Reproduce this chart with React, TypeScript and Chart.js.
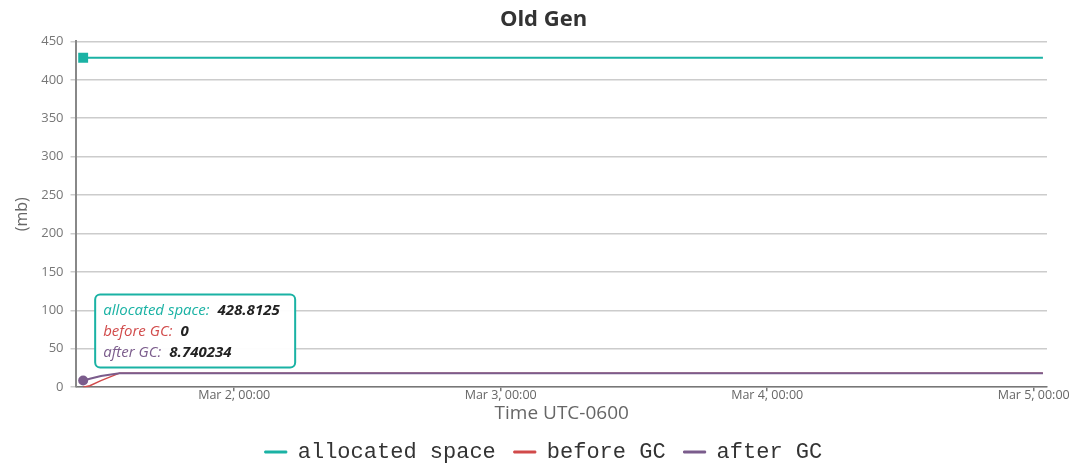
import React, { useEffect, useRef } from "react";
import { Chart, registerables } from "chart.js";

Chart.register(...registerables);

// ---- data ----
const times = ["2019-03-01 10:24", "2019-03-01 11:00", "2019-03-01 12:00", "2019-03-01 13:40", "2019-03-05 00:50"];
const allocatedSpace = [428.8125, 428.8125, 428.8125, 428.8125, 428.8125];
const beforeGC = [0, 2, 8.5, 18.3, 18.3];
const afterGC = [8.740234, 11, 14.5, 18.3, 18.3];
const tickTimes = ["2019-03-02 00:00", "2019-03-03 00:00", "2019-03-04 00:00", "2019-03-05 00:00"];
const axisStart = "2019-03-01 09:48";
const axisEnd = "2019-03-05 01:12";
const monthNames = ["Jan", "Feb", "Mar", "Apr", "May", "Jun", "Jul", "Aug", "Sep", "Oct", "Nov", "Dec"];

const TEAL = "#1ab2a4";
const RED = "#d14b4b";
const PURPLE = "#7b5c8c";

const BASE = Date.UTC(2019, 2, 1, 0, 0);
function toHours(s: string): number {
  const [d, t] = s.split(" ");
  const [y, mo, da] = d.split("-").map(Number);
  const [h, mi] = t.split(":").map(Number);
  return (Date.UTC(y, mo - 1, da, h, mi) - BASE) / 3600000;
}
function fmtHours(v: number): string {
  const dt = new Date(BASE + Math.round(v * 3600000));
  const hh = String(dt.getUTCHours()).padStart(2, "0");
  const mm = String(dt.getUTCMinutes()).padStart(2, "0");
  return `${monthNames[dt.getUTCMonth()]} ${dt.getUTCDate()}, ${hh}:${mm}`;
}

const xs = times.map(toHours);
const pts = (arr: number[]) => arr.map((y, i) => ({ x: xs[i], y }));

const shiftPlugin = {
  id: "shiftTitleLegend",
  afterLayout(chart: any) {
    const dx = 16;
    if (chart.legend) {
      chart.legend.left += dx;
      chart.legend.right += dx;
    }
    if (chart.titleBlock) {
      chart.titleBlock.left += dx;
      chart.titleBlock.right += dx;
    }
  },
};

const tooltipPlugin = {
  id: "fixedTooltip",
  afterDraw(chart: any) {
    const ctx = chart.ctx;
    const meta = chart.getDatasetMeta(2);
    const p = meta.data[0];
    if (!p) return;
    const bx = p.x + 12;
    const by = p.y - 86;
    const bw = 200;
    const bh = 73;
    ctx.save();
    ctx.beginPath();
    (ctx as any).roundRect(bx, by, bw, bh, 5);
    ctx.fillStyle = "rgba(255,255,255,0.96)";
    ctx.fill();
    ctx.lineWidth = 2;
    ctx.strokeStyle = TEAL;
    ctx.stroke();
    const rows = [
      { label: "allocated space:", value: String(allocatedSpace[0]), color: TEAL },
      { label: "before GC:", value: String(beforeGC[0]), color: RED },
      { label: "after GC:", value: String(afterGC[0]), color: PURPLE },
    ];
    ctx.textBaseline = "middle";
    rows.forEach((r, i) => {
      const ty = by + 16 + i * 21;
      ctx.font = "italic 15px 'Open Sans'";
      ctx.fillStyle = r.color;
      ctx.fillText(r.label, bx + 8, ty);
      const w = ctx.measureText(r.label).width;
      ctx.font = "italic bold 15px 'Open Sans'";
      ctx.fillStyle = "#222";
      ctx.fillText(r.value, bx + 8 + w + 8, ty);
    });
    ctx.restore();
  },
};

export default function App() {
  const ref = useRef<HTMLCanvasElement>(null);
  useEffect(() => {
    if (!ref.current) return;
    const chart = new Chart(ref.current, {
      type: "line",
      data: {
        datasets: [
          {
            label: "allocated space",
            data: pts(allocatedSpace),
            borderColor: TEAL,
            backgroundColor: TEAL,
            borderWidth: 2,
            pointStyle: "rect",
            pointRadius: (c: any) => (c.dataIndex === 0 ? 7 : 0),
            pointBackgroundColor: TEAL,
            pointBorderWidth: 0,
            tension: 0,
            order: 0,
          },
          {
            label: "before GC",
            data: pts(beforeGC),
            borderColor: RED,
            backgroundColor: RED,
            borderWidth: 1.5,
            pointRadius: 0,
            tension: 0,
            order: 2,
          },
          {
            label: "after GC",
            data: pts(afterGC),
            borderColor: PURPLE,
            backgroundColor: PURPLE,
            borderWidth: 2,
            pointRadius: (c: any) => (c.dataIndex === 0 ? 5 : 0),
            pointBackgroundColor: PURPLE,
            pointBorderWidth: 0,
            tension: 0,
            order: 1,
          },
        ],
      },
      options: {
        animation: false,
        responsive: true,
        maintainAspectRatio: false,
        layout: { padding: { left: 8, right: 26, top: 2, bottom: -9 } },
        plugins: {
          title: {
            display: true,
            text: "Old Gen",
            color: "#333",
            font: { family: "'Open Sans'", size: 22, weight: "bold" },
            padding: { top: 5, bottom: 8 },
          },
          legend: {
            position: "bottom",
            labels: {
              boxWidth: 22,
              boxHeight: 2,
              padding: 18,
              color: "#333",
              font: { family: "'Liberation Mono'", size: 22 },
              sort: (a: any, b: any) => a.datasetIndex - b.datasetIndex,
              generateLabels: (chart: any) =>
                (Chart.defaults.plugins.legend.labels as any)
                  .generateLabels(chart)
                  .map((l: any) => ({ ...l, lineWidth: 1 })),
            },
          },
          tooltip: { enabled: false },
        },
        scales: {
          x: {
            type: "linear",
            min: toHours(axisStart),
            max: toHours(axisEnd),
            afterBuildTicks: (axis: any) => {
              axis.ticks = tickTimes.map((t) => ({ value: toHours(t) }));
            },
            ticks: {
              color: "#666",
              font: { family: "'Open Sans'", size: 12.5 },
              maxRotation: 0,
              padding: -3,
              callback: (v: any) => fmtHours(Number(v)),
            },
            grid: { drawOnChartArea: false, drawTicks: true, tickLength: 4, color: "#777", lineWidth: 1.5 },
            border: { color: "#777", width: 1.5 },
            title: {
              display: true,
              text: "Time UTC-0600",
              color: "#666",
              font: { family: "'Open Sans'", size: 19 },
              padding: { top: 2, bottom: -2 },
            },
          },
          y: {
            min: 0,
            max: 450,
            ticks: {
              stepSize: 50,
              color: "#777",
              font: { family: "'Open Sans'", size: 13 },
              padding: 7,
            },
            grid: { color: "#cccccc", lineWidth: 1.5, tickLength: 6 },
            border: { color: "#888", width: 2 },
            title: {
              display: true,
              text: "(mb)",
              color: "#666",
              font: { family: "'Open Sans'", size: 16 },
              padding: { top: 5, bottom: 2 },
            },
          },
        },
      },
      plugins: [shiftPlugin, tooltipPlugin],
    } as any);
    return () => chart.destroy();
  }, []);
  return (
    <div style={{ position: "absolute", left: 0, top: 0, width: 1073, height: 464, background: "#fff" }}>
      <canvas ref={ref} />
    </div>
  );
}
